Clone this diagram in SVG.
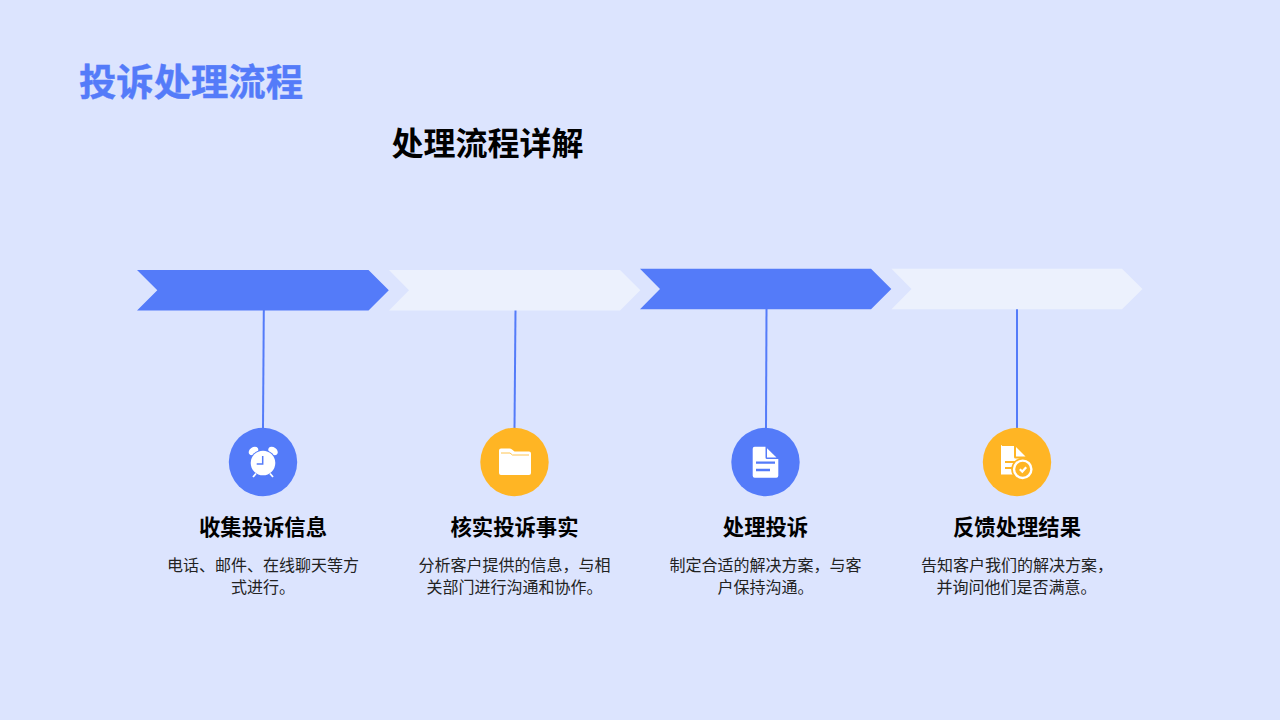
<svg xmlns="http://www.w3.org/2000/svg" width="1280" height="720" viewBox="0 0 1280 720">
<style>
text{font-family:"Noto Sans CJK SC","Noto Sans",sans-serif;text-anchor:middle}
.h{font-size:21.33px;font-weight:700;fill:#000}
.d{font-size:16px;fill:#222}
.b{fill:#547bf9}.l{fill:#ecf1fd}.y{fill:#ffb524}
.w{fill:#fff}
.c{stroke:#547bf9;stroke-width:2;fill:none}
</style>
<rect width="1280" height="720" fill="#dce4fe"/>
<text id="title" x="191" y="96" font-size="37.33" font-weight="700" fill="#547bf9" stroke="#547bf9" stroke-width="0.4">投诉处理流程</text>
<text id="subtitle" x="487.500" y="155" font-size="32" font-weight="700" fill="#000">处理流程详解</text>
<g id="connectors">
<path class="c" d="M263.800 310L263 428"/><path class="c" d="M515.500 310L514.500 428"/><path class="c" d="M766.500 309L766 428"/><path class="c" d="M1017 309V428"/>
</g>
<g id="chevron1"><polygon class="b" points="137,270 368.500,270 388.800,290.300 368.500,310.500 137,310.500 157.300,290.300"/></g>
<g id="chevron2"><polygon class="l" points="389,270 620,270 640.300,290.300 620,310.500 389,310.500 409,290.300"/></g>
<g id="chevron3"><polygon class="b" points="640,268.700 871,268.700 891.300,289 871,309.200 640,309.200 660,289"/></g>
<g id="chevron4"><polygon class="l" points="891.500,268.700 1122,268.700 1142.500,289 1122,309.200 891.500,309.200 911.500,289"/></g>
<g id="step1">
<circle class="b" cx="263" cy="462" r="34.200"/>
<ellipse class="w" cx="253.500" cy="451" rx="5.200" ry="3.800" transform="rotate(-35 253.500 451)"/>
<ellipse class="w" cx="273" cy="451" rx="5.200" ry="3.800" transform="rotate(35 273 451)"/>
<circle class="b" cx="263" cy="463" r="13.300"/>
<circle class="w" cx="263" cy="463" r="12.300"/>
<path d="M256 473.500l-3 3.500M270 473.500l3 3.500" stroke="#fff" stroke-width="1.800" fill="none"/>
<path d="M262.700 456v8h-6" stroke="#547bf9" stroke-width="1.500" fill="none"/>
<text class="h" x="263" y="534.500">收集投诉信息</text>
<text class="d" x="263" y="570.500">电话、邮件、在线聊天等方</text>
<text class="d" x="263" y="593">式进行。</text>
</g>
<g id="step2">
<circle class="y" cx="514.500" cy="462" r="34.200"/>
<path class="w" d="M501 448.500h8.500q1.500 0 2.500 1l2.500 2h14.500q2 0 2 2v19.500q0 2-2 2h-28q-2 0-2-2v-22.500q0-2 2-2z"/>
<path d="M501 453h9l2.500 2h16.500" fill="none" stroke="#ffb524" stroke-width="0.800"/>
<text class="h" x="514.500" y="534.500">核实投诉事实</text>
<text class="d" x="514.500" y="570.500">分析客户提供的信息，与相</text>
<text class="d" x="514.500" y="593">关部门进行沟通和协作。</text>
</g>
<g id="step3">
<circle class="b" cx="765.500" cy="462" r="34.200"/>
<path class="w" d="M754.700 446.700h10.800v10.800q0 1.500 1.500 1.500h11.300v16.700q0 2-2 2h-21.600q-2 0-2-2v-27q0-2 2-2z"/>
<path class="w" d="M767 448.300l9.500 9.200h-9.500z"/>
<path d="M756 462.700h19M756 470h14" stroke="#547bf9" stroke-width="2.300" fill="none"/>
<text class="h" x="765.500" y="534.500">处理投诉</text>
<text class="d" x="765.500" y="570.500">制定合适的解决方案，与客</text>
<text class="d" x="765.500" y="593">户保持沟通。</text>
</g>
<g id="step4">
<circle class="y" cx="1017" cy="462" r="34.200"/>
<path class="w" d="M1002 446h12v11q0 1.500 1.500 1.500h10v16h-24.500v-28.500q0-1 1-1z" />
<path class="w" d="M1016 447l9.500 9.500h-9.500z"/>
<path d="M1005 462h14M1005 468h9" stroke="#ffb524" stroke-width="2" fill="none"/>
<circle class="y" cx="1022.700" cy="469.300" r="11.500"/>
<circle cx="1022.700" cy="469.300" r="8.700" fill="none" stroke="#fff" stroke-width="2.400"/>
<path d="M1019.800 469.300l2.500 2.300 3.900-4.300" fill="none" stroke="#fff" stroke-width="2.200"/>
<text class="h" x="1017" y="534.500">反馈处理结果</text>
<text class="d" x="1017" y="570.500">告知客户我们的解决方案，</text>
<text class="d" x="1016.500" y="593">并询问他们是否满意。</text>
</g>
</svg>
